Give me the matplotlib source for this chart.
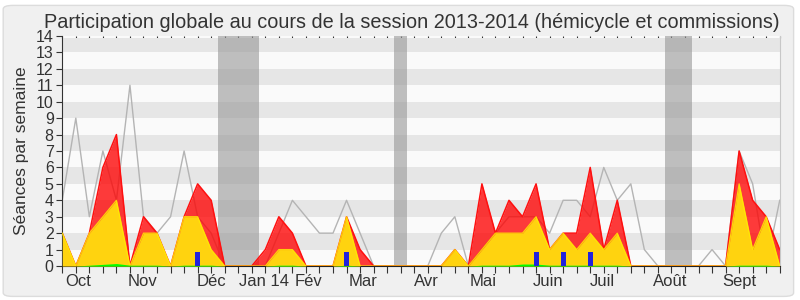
import matplotlib
matplotlib.use("Agg")
import matplotlib.pyplot as plt
import numpy as np
from matplotlib.patches import FancyBboxPatch
import matplotlib.transforms as mtransforms

plt.rcParams['font.family'] = ['Liberation Sans', 'DejaVu Sans']

# ---- data (one value per week, 54 weeks) ----
total_seances = [4, 9, 3, 7, 4, 11, 3, 2, 3, 7, 3, 2, 0, 0, 0, 0, 2, 4, 3, 2,
                 2, 4, 2, 0, 0, 0, 0, 0, 2, 3, 0, 1, 2, 3, 3, 3, 2, 4, 4, 3,
                 6, 4, 5, 1, 0, 0, 0, 0, 1, 0, 7, 5, 0, 4]
presences = [2, 0, 2, 6, 8, 0, 3, 2, 0, 3, 5, 4, 0, 0, 0, 1, 3, 2, 0, 0,
             0, 3, 1, 0, 0, 0, 0, 0, 0, 1, 0, 5, 2, 4, 3, 5, 1, 2, 2, 6,
             1, 4, 0, 0, 0, 0, 0, 0, 0, 0, 7, 4, 3, 1]
participations = [2, 0, 2, 3, 4, 0, 2, 2, 0, 3, 3, 1, 0, 0, 0, 0, 1, 1, 0, 0,
                  0, 3, 0, 0, 0, 0, 0, 0, 0, 1, 0, 1, 2, 2, 2, 3, 1, 2, 1, 2,
                  1, 2, 0, 0, 0, 0, 0, 0, 0, 0, 5, 1, 3, 0]
interventions = [0, 0, 0.05, 0.1, 0.15, 0.05, 0.05, 0.05, 0, 0.05, 0.05, 0.05, 0, 0, 0, 0, 0.05, 0.05, 0, 0,
                 0, 0.05, 0, 0, 0, 0, 0, 0, 0, 0, 0, 0.05, 0.05, 0.05, 0.12, 0.12, 0.05, 0.05, 0.05, 0.05,
                 0.05, 0.05, 0, 0, 0, 0, 0, 0, 0, 0, 0.05, 0.05, 0.05, 0]
questions_weeks = [10, 21, 35, 37, 39]
questions_values = [0.85, 0.85, 0.85, 0.85, 0.85]
vacances_weeks = [12, 13, 14, 25, 45, 46]
month_labels = ['Oct', 'Nov', 'Déc', 'Jan 14', 'Fév', 'Mar', 'Avr', 'Mai', 'Juin', 'Juil', 'Août', 'Sept']
month_pos = [1.2, 5.95, 11.0, 14.9, 18.2, 22.2, 26.9, 31.1, 35.9, 39.9, 44.9, 50.0]

weeks = np.arange(len(total_seances))

fig = plt.figure(figsize=(8, 3), dpi=100)
fig.patch.set_facecolor('white')
box = FancyBboxPatch((0.004, 0.012), 0.988, 0.97, boxstyle="round,pad=0,rounding_size=0.012",
                     transform=fig.transFigure, facecolor='#F0F0F0', edgecolor='#DCDCDC',
                     linewidth=1.0, zorder=-10)
fig.patches.append(box)

ax = fig.add_axes([0.0775, 0.1133, 0.8975, 0.7667])
ax.set_zorder(1)
ax.set_facecolor('#FAFAFA')
ax.set_xlim(-0.02, len(weeks) - 1 + 0.02)
ax.set_ylim(0, 14)

for k in range(7):
    top = min(2 * k + 2, 13.85)
    ax.axhspan(2 * k + 1, top, color='#E6E6E6', lw=0, zorder=0.5)

for w in vacances_weeks:
    ax.axvspan(w - 0.5, w + 0.5, color='#999999', alpha=0.62, lw=0, zorder=0.8)

ax.plot(weeks, total_seances, color='#B4B4B4', lw=1.0, zorder=1)
ax.fill_between(weeks, 0, presences, color='#FF0000', alpha=0.77, lw=0, zorder=2)
ax.plot(weeks, presences, color='#FF1010', lw=1.1, zorder=2.1)
ax.fill_between(weeks, 0, participations, color='#FFD30F', lw=0, zorder=3)
ax.plot(weeks, participations, color='#FFEE00', lw=0.9, alpha=0.85, zorder=3.1)
ax.fill_between(weeks, 0, interventions, color='#00FF00', lw=0, zorder=4)
ax.bar(questions_weeks, questions_values, width=0.37, color='#2222DD', zorder=5)

ax.set_yticks(range(0, 15))
ax.tick_params(axis='y', direction='out', length=4, width=0.8, color='#333333',
               labelsize=11.5, labelcolor='#333333', pad=2)
ax.set_xticks(weeks)
ax.set_xticklabels([])
ax.tick_params(axis='x', which='major', direction='out', length=5, width=0.8, color='#333333',
               top=False)
sec = ax.secondary_xaxis('top')
sec.set_xticks(weeks)
sec.set_xticklabels([])
sec.tick_params(direction='in', length=1.5, width=0.8, color='#333333')
sec.spines['top'].set_visible(False)

ax.spines['top'].set_visible(False)
ax.spines['right'].set_color('#C8C8C8')
ax.spines['left'].set_color('#333333')
ax.spines['bottom'].set_color('#222222')

trans = mtransforms.blended_transform_factory(ax.transData, ax.transAxes)
for lab, pos in zip(month_labels, month_pos):
    ax.text(pos, -0.035, lab, transform=trans, ha='center', va='top',
            fontsize=12, color='#333333')

ax.set_ylabel('Séances par semaine', fontsize=12.5, color='#333333', labelpad=5)
fig.text(0.515, 0.925, 'Participation globale au cours de la session 2013-2014 (hémicycle et commissions)',
         ha='center', va='center', fontsize=14.3, color='#333333')

fig.savefig('out.png', dpi=100, facecolor=fig.get_facecolor())
